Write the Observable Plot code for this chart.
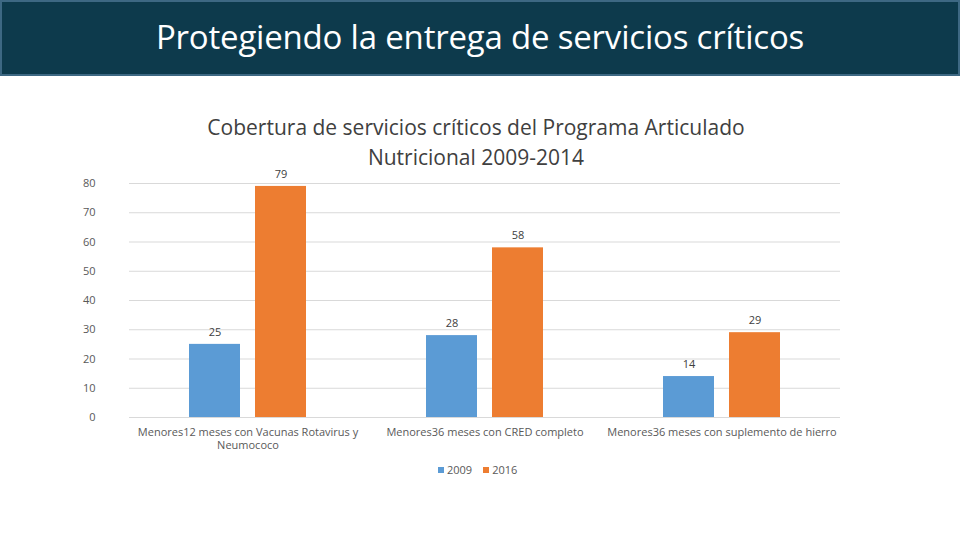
<!DOCTYPE html>
<html><head><meta charset="utf-8">
<script src="https://cdn.jsdelivr.net/npm/d3@7"></script>
<script src="https://cdn.jsdelivr.net/npm/@observablehq/plot@0.6"></script>
<style>
body{margin:0;width:960px;height:540px;position:relative;background:#fff;font-family:"Open Sans","Noto Sans",sans-serif;overflow:hidden}
#header{position:absolute;left:0;top:0;width:956px;height:72px;background:#0d3a4c;border:2px solid #3d6883;color:#fff;font-size:33px;text-align:center;line-height:70px;letter-spacing:-0.2px}
#chart{position:absolute;left:0;top:0}
#ctitle{position:absolute;left:0;width:952px;top:112px;text-align:center;font-size:21px;line-height:30px;color:#404040}
#legend{position:absolute;top:462px;left:438px;font-size:11px;color:#595959;display:flex;gap:11px}
#legend span{display:flex;align-items:center;gap:3px}
#legend i{display:inline-block;width:6px;height:6px}
</style></head>
<body>
<div id="chart"></div>
<div id="header">Protegiendo la entrega de servicios críticos</div>
<div id="ctitle">Cobertura de servicios críticos del Programa Articulado<br>Nutricional 2009-2014</div>
<div id="legend"></div>
<script>
const categories = ["Menores12 meses con Vacunas Rotavirus y Neumococo", "Menores36 meses con CRED completo", "Menores36 meses con suplemento de hierro"];
const categoryLabels = ["Menores12 meses con Vacunas Rotavirus y\nNeumococo", "Menores36 meses con CRED completo", "Menores36 meses con suplemento de hierro"];
const series = ["2009", "2016"];
const values2009 = [25, 28, 14];
const values2016 = [79, 58, 29];
const colors = ["#5b9bd5", "#ed7d31"];
const yTicks = [0, 10, 20, 30, 40, 50, 60, 70, 80];

const data = [];
categories.forEach((c, i) => {
  data.push({cat: c, year: series[0], v: values2009[i]});
  data.push({cat: c, year: series[1], v: values2016[i]});
});

const plot = Plot.plot({
  width: 960, height: 540,
  marginTop: 183, marginBottom: 123, marginLeft: 128, marginRight: 120,
  style: {fontFamily: '"Open Sans","Noto Sans",sans-serif', fontSize: "11px", color: "#595959", background: "transparent"},
  fx: {domain: categories, paddingInner: 0, paddingOuter: 0, label: null},
  x: {domain: series, paddingInner: 0.224, paddingOuter: 0.883, axis: null},
  y: {domain: [0, 80], label: null},
  color: {domain: series, range: colors},
  marks: [
    Plot.ruleY(yTicks, {stroke: "#d9d9d9", strokeWidth: 1}),
    Plot.axisY({ticks: yTicks, tickSize: 0, tickPadding: 34, fill: "#595959", label: null, fontSize: 11}),
    Plot.axisFx({anchor: "bottom", tickSize: 0, tickPadding: 9, lineHeight: 1.2, tickFormat: d => categoryLabels[categories.indexOf(d)], fill: "#595959", label: null, fontSize: 11}),
    Plot.barY(data, {fx: "cat", x: "year", y: "v", fill: "year"}),
    Plot.text(data, {fx: "cat", x: "year", y: "v", text: d => String(d.v), dy: -12, fill: "#404040", fontSize: 11})
  ]
});
document.getElementById("chart").appendChild(plot);

const lg = document.getElementById("legend");
series.forEach((s, i) => {
  const sp = document.createElement("span");
  sp.innerHTML = `<i style="background:${colors[i]}"></i>${s}`;
  lg.appendChild(sp);
});
</script>
</body></html>
